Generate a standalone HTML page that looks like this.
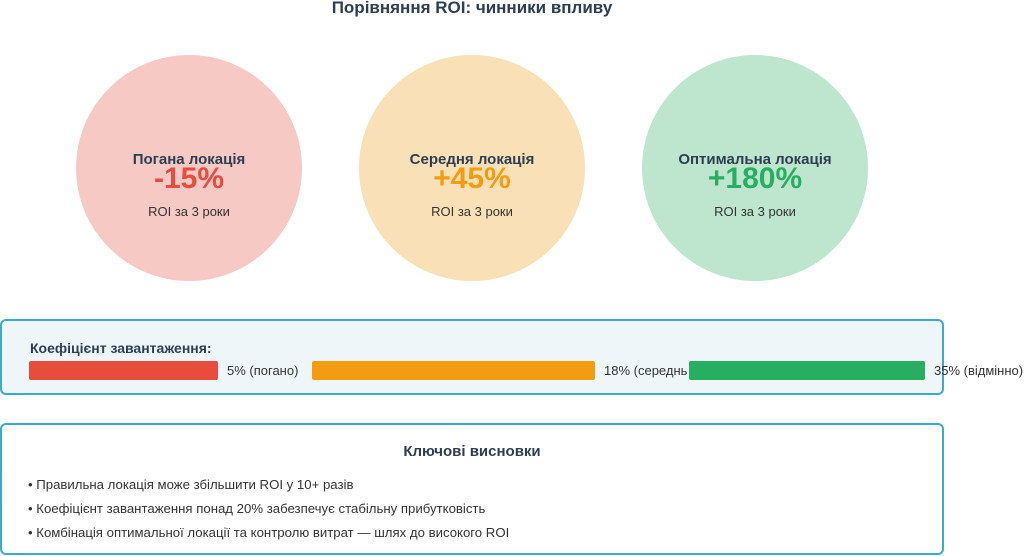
<!DOCTYPE html>
<html><head><meta charset="utf-8"><style>
html,body{margin:0;padding:0;background:#fff;width:1024px;height:556px;overflow:hidden}
svg{display:block;font-family:"Liberation Sans",Arial,sans-serif}
</style></head><body>
<svg width="1024" height="556" viewBox="0 0 1024 556">
<text x="472" y="13" text-anchor="middle" font-size="17" font-weight="bold" fill="#2c3e50">Порівняння ROI: чинники впливу</text>

<circle cx="189" cy="168" r="113" fill="#f6c9c4"/>
<text x="189" y="164" text-anchor="middle" font-size="15" font-weight="bold" fill="#2c3e50">Погана локація</text>
<text x="189" y="188" text-anchor="middle" font-size="30" font-weight="bold" fill="#e74c3c">-15%</text>
<text x="189" y="216" text-anchor="middle" font-size="13" fill="#333">ROI за 3 роки</text>

<circle cx="472" cy="168" r="113" fill="#fae0b6"/>
<text x="472" y="164" text-anchor="middle" font-size="15" font-weight="bold" fill="#2c3e50">Середня локація</text>
<text x="472" y="188" text-anchor="middle" font-size="30" font-weight="bold" fill="#f39c12">+45%</text>
<text x="472" y="216" text-anchor="middle" font-size="13" fill="#333">ROI за 3 роки</text>

<circle cx="755" cy="168" r="113" fill="#bee6cf"/>
<text x="755" y="164" text-anchor="middle" font-size="15" font-weight="bold" fill="#2c3e50">Оптимальна локація</text>
<text x="755" y="188" text-anchor="middle" font-size="30" font-weight="bold" fill="#27ae60">+180%</text>
<text x="755" y="216" text-anchor="middle" font-size="13" fill="#333">ROI за 3 роки</text>

<rect x="1" y="320" width="942" height="74" rx="5" fill="#eef6fa" stroke="#3fa9cc" stroke-width="2"/>
<text x="30" y="353" font-size="14" font-weight="bold" fill="#2c3e50">Коефіцієнт завантаження:</text>
<rect x="29" y="361" width="189" height="19" rx="2" fill="#e74c3c"/>
<text x="227" y="375" font-size="13" fill="#333">5% (погано)</text>
<rect x="312" y="361" width="283" height="19" rx="2" fill="#f39c12"/>
<text x="604" y="375" font-size="13" fill="#333">18% (середнь</text>
<rect x="689" y="361" width="236" height="19" rx="2" fill="#27ae60"/>
<text x="934" y="375" font-size="13" fill="#333">35% (відмінно)</text>

<rect x="1" y="424" width="942" height="130" rx="5" fill="#fff" stroke="#3fa9cc" stroke-width="2"/>
<text x="472" y="456" text-anchor="middle" font-size="15" font-weight="bold" fill="#2c3e50">Ключові висновки</text>
<text x="28" y="489" font-size="13.2" fill="#333">• Правильна локація може збільшити ROI у 10+ разів</text>
<text x="28" y="513" font-size="13.2" fill="#333">• Коефіцієнт завантаження понад 20% забезпечує стабільну прибутковість</text>
<text x="28" y="537" font-size="13.2" fill="#333">• Комбінація оптимальної локації та контролю витрат — шлях до високого ROI</text>
</svg>
</body></html>
